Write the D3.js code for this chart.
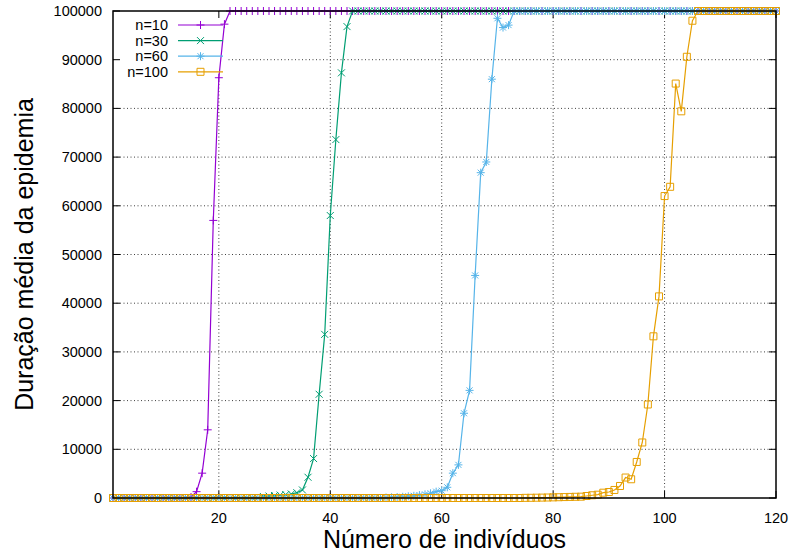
<!DOCTYPE html>
<html>
<head>
<meta charset="utf-8">
<script src="https://cdn.jsdelivr.net/npm/d3@7/dist/d3.min.js"></script>
<style>
    body { margin: 0; background: #fff; }
    svg { display: block; font-family: "Liberation Sans", Arial, sans-serif; }
</style>
</head>
<body>
<div id="chart"></div>
<script>
// numero de individuos (eixo x)
let individuos = d3.range(1, 121)

let xTicks = [20, 40, 60, 80, 100, 120]
let yTicks = [0, 10000, 20000, 30000, 40000, 50000, 60000, 70000, 80000, 90000, 100000]
let labels = ['n=10', 'n=30', 'n=60', 'n=100']

// duracao media da epidemia, um valor por numero de individuos
let dur10 = [
    0, 0, 0, 0, 0, 0, 0, 0, 0, 0,
    0, 0, 0, 0, 200, 1300, 5100, 14000, 57000, 86300,
    97300, 100000, 100000, 100000, 100000, 100000, 100000, 100000, 100000, 100000,
    100000, 100000, 100000, 100000, 100000, 100000, 100000, 100000, 100000, 100000,
    100000, 100000, 100000, 100000, 100000, 100000, 100000, 100000, 100000, 100000,
    100000, 100000, 100000, 100000, 100000, 100000, 100000, 100000, 100000, 100000,
    100000, 100000, 100000, 100000, 100000, 100000, 100000, 100000, 100000, 100000,
    100000, 100000, 100000, 100000, 100000, 100000, 100000, 100000, 100000, 100000,
    100000, 100000, 100000, 100000, 100000, 100000, 100000, 100000, 100000, 100000,
    100000, 100000, 100000, 100000, 100000, 100000, 100000, 100000, 100000, 100000,
    100000, 100000, 100000, 100000, 100000, 100000, 100000, 100000, 100000, 100000,
    100000, 100000, 100000, 100000, 100000, 100000, 100000, 100000, 100000, 100000
]

let dur30 = [
    0, 0, 0, 0, 0, 0, 0, 0, 0, 0,
    0, 0, 0, 0, 0, 0, 0, 0, 0, 0,
    0, 0, 0, 0, 0, 0, 0, 300, 400, 500,
    600, 700, 820, 1090, 1650, 4260, 8100, 21300, 33600, 58000,
    73600, 87300, 96800, 100000, 100000, 100000, 100000, 100000, 100000, 100000,
    100000, 100000, 100000, 100000, 100000, 100000, 100000, 100000, 100000, 100000,
    100000, 100000, 100000, 100000, 100000, 100000, 100000, 100000, 100000, 100000,
    100000, 100000, 100000, 100000, 100000, 100000, 100000, 100000, 100000, 100000,
    100000, 100000, 100000, 100000, 100000, 100000, 100000, 100000, 100000, 100000,
    100000, 100000, 100000, 100000, 100000, 100000, 100000, 100000, 100000, 100000,
    100000, 100000, 100000, 100000, 100000, 100000, 100000, 100000, 100000, 100000,
    100000, 100000, 100000, 100000, 100000, 100000, 100000, 100000, 100000, 100000
]

let dur60 = [
    0, 0, 0, 0, 0, 0, 0, 0, 0, 0,
    0, 0, 0, 0, 0, 0, 0, 0, 0, 0,
    0, 0, 0, 0, 0, 0, 0, 0, 0, 0,
    0, 0, 0, 0, 0, 0, 0, 0, 0, 0,
    0, 0, 0, 0, 0, 0, 0, 0, 0, 100,
    150, 200, 250, 350, 450, 600, 750, 970, 1300, 1500,
    2200, 5100, 6800, 17400, 22100, 45700, 66800, 69000, 86000, 98500,
    96600, 97100, 100000, 100000, 100000, 100000, 100000, 100000, 100000, 100000,
    100000, 100000, 100000, 100000, 100000, 100000, 100000, 100000, 100000, 100000,
    100000, 100000, 100000, 100000, 100000, 100000, 100000, 100000, 100000, 100000,
    100000, 100000, 100000, 100000, 100000, 100000, 100000, 100000, 100000, 100000,
    100000, 100000, 100000, 100000, 100000, 100000, 100000, 100000, 100000, 100000
]

let dur100 = [
    0, 0, 0, 0, 0, 0, 0, 0, 0, 0,
    0, 0, 0, 0, 0, 0, 0, 0, 0, 0,
    0, 0, 0, 0, 0, 0, 0, 0, 0, 0,
    0, 0, 0, 0, 0, 0, 0, 0, 0, 0,
    0, 0, 0, 0, 0, 0, 0, 0, 0, 0,
    0, 0, 0, 0, 0, 0, 0, 0, 0, 0,
    0, 0, 0, 0, 0, 0, 0, 0, 0, 0,
    0, 0, 0, 0, 30, 40, 60, 80, 100, 130,
    160, 190, 220, 250, 270, 410, 560, 680, 1090, 1230,
    1650, 2470, 4200, 3850, 7400, 11400, 19200, 33200, 41400, 62000,
    63900, 85100, 79400, 90600, 98000, 100000, 100000, 100000, 100000, 100000,
    100000, 100000, 100000, 100000, 100000, 100000, 100000, 100000, 100000, 100000
]

let width = 793
let height = 554
let margin = { top: 11, right: 17, bottom: 56, left: 113 }

let colors = ['#9400d3', '#009e73', '#56b4e9', '#e69f00']

// pontos no estilo do gnuplot: +, x, *, quadrado
let symbols = [
    'M-4,0H4M0,-4V4',
    'M-3.5,-3.5L3.5,3.5M-3.5,3.5L3.5,-3.5',
    'M-4,0H4M0,-4V4M-3,-3L3,3M-3,3L3,-3',
    'M-3.5,-3.5H3.5V3.5H-3.5Z'
]

let series = [dur10, dur30, dur60, dur100].map((values, i) => {
    return {
        label: labels[i],
        color: colors[i],
        symbol: symbols[i],
        points: values.map((v, j) => ({ x: individuos[j], y: v }))
    }
})

let x = d3.scaleLinear()
    .domain([1, 120])
    .range([margin.left, width - margin.right])

let y = d3.scaleLinear()
    .domain([0, 100000])
    .range([height - margin.bottom, margin.top])

let svg = d3.select('#chart').append('svg')
    .attr('width', width)
    .attr('height', height)

// grade pontilhada
let grid = svg.append('g')
    .attr('stroke', '#000')
    .attr('stroke-width', 1)
    .attr('stroke-dasharray', '1,2.5')
    .attr('opacity', 0.75)

grid.selectAll('.gy')
    .data(yTicks.slice(1, -1))
    .join('line')
    .attr('x1', x(1))
    .attr('x2', x(120))
    .attr('y1', d => y(d))
    .attr('y2', d => y(d))

grid.selectAll('.gx')
    .data(xTicks.slice(0, -1))
    .join('line')
    .attr('x1', d => x(d))
    .attr('x2', d => x(d))
    .attr('y1', y(0))
    .attr('y2', y(100000))

// fundo da legenda esconde a grade
svg.append('rect')
    .attr('x', x(1) + 1)
    .attr('y', y(100000) + 1)
    .attr('width', 114)
    .attr('height', 69)
    .attr('fill', '#fff')

// ticks para dentro, espelhados
let axes = svg.append('g')
    .attr('stroke', '#000')
    .attr('stroke-width', 1)

axes.selectAll('.ty')
    .data(yTicks)
    .join('path')
    .attr('d', d => `M${x(1)},${y(d)}h7M${x(120)},${y(d)}h-7`)

axes.selectAll('.tx')
    .data(xTicks)
    .join('path')
    .attr('d', d => `M${x(d)},${y(0)}v-7M${x(d)},${y(100000)}v7`)

let line = d3.line()
    .x(d => x(d.x))
    .y(d => y(d.y))

series.forEach(s => {
    let g = svg.append('g')

    g.append('path')
        .datum(s.points)
        .attr('fill', 'none')
        .attr('stroke', s.color)
        .attr('stroke-width', 1.2)
        .attr('d', line)

    g.selectAll('.pt')
        .data(s.points)
        .join('path')
        .attr('transform', d => `translate(${x(d.x)},${y(d.y)})`)
        .attr('d', s.symbol)
        .attr('fill', 'none')
        .attr('stroke', s.color)
        .attr('stroke-width', 1)
})

// moldura
svg.append('rect')
    .attr('x', x(1))
    .attr('y', y(100000))
    .attr('width', x(120) - x(1))
    .attr('height', y(0) - y(100000))
    .attr('fill', 'none')
    .attr('stroke', '#000')
    .attr('stroke-width', 1.5)

// rotulos dos ticks
svg.append('g')
    .attr('font-size', '14.5px')
    .attr('text-anchor', 'end')
    .selectAll('text')
    .data(yTicks)
    .join('text')
    .attr('x', x(1) - 11)
    .attr('y', d => y(d) + 5)
    .text(d => d)

svg.append('g')
    .attr('font-size', '14.5px')
    .attr('text-anchor', 'middle')
    .selectAll('text')
    .data(xTicks)
    .join('text')
    .attr('x', d => x(d))
    .attr('y', y(0) + 25)
    .text(d => d)

// legenda
let legend = svg.append('g')
    .attr('font-size', '14.5px')

series.forEach((s, i) => {
    let ly = 25 + i * 15.6

    legend.append('text')
        .attr('x', 168)
        .attr('y', ly + 5)
        .attr('text-anchor', 'end')
        .text(s.label)

    legend.append('line')
        .attr('x1', 178)
        .attr('x2', 223)
        .attr('y1', ly)
        .attr('y2', ly)
        .attr('stroke', s.color)
        .attr('stroke-width', 1.2)

    legend.append('path')
        .attr('transform', `translate(200.5,${ly})`)
        .attr('d', s.symbol)
        .attr('fill', 'none')
        .attr('stroke', s.color)
})

// titulos dos eixos
svg.append('text')
    .attr('x', (x(1) + x(120)) / 2)
    .attr('y', 548)
    .attr('text-anchor', 'middle')
    .attr('font-size', '25px')
    .text('Número de indivíduos')

svg.append('text')
    .attr('transform', `translate(33,${(y(0) + y(100000)) / 2}) rotate(-90)`)
    .attr('text-anchor', 'middle')
    .attr('font-size', '25px')
    .text('Duração média da epidemia')
</script>
</body>
</html>
